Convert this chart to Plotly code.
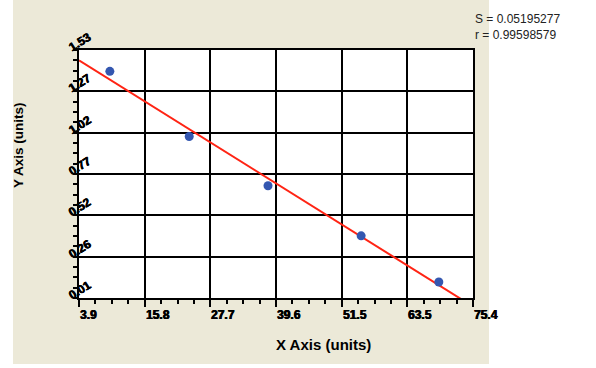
import plotly.graph_objects as go

# ---- data ----
x_points = [9.5, 23.9, 38.2, 55.1, 69.2]
y_points = [1.399, 1.00, 0.698, 0.391, 0.108]

fit_x = [3.9, 73.4]
fit_y = [1.467, 0.0]

x_tick_labels = ["3.9", "15.8", "27.7", "39.6", "51.5", "63.5", "75.4"]
y_tick_labels = ["0.01", "0.26", "0.52", "0.77", "1.02", "1.27", "1.53"]

x_min, x_max = 3.9, 75.4
y_min, y_max = 0.01, 1.53

stats_text = ["S = 0.05195277", "r = 0.99598579"]

# ---- figure ----
FONT = "Liberation Sans, Arial, sans-serif"
BEIGE = "#ece9d8"
THICK = "0.5px 0px 0px black, -0.3px 0px 0px black"

fig = go.Figure()

fig.add_trace(go.Scatter(
    x=fit_x, y=fit_y, mode="lines",
    line=dict(color="#ff2414", width=2),
    hoverinfo="skip", showlegend=False,
))
fig.add_trace(go.Scatter(
    x=x_points, y=y_points, mode="markers",
    marker=dict(color="#3457b0", size=9, line=dict(width=0)),
    showlegend=False,
))

x_step = (x_max - x_min) / 6
y_step = (y_max - y_min) / 6
x_tickvals = [x_min + i * x_step for i in range(len(x_tick_labels))]
y_tickvals = [y_min + i * y_step for i in range(len(y_tick_labels))]

fig.update_xaxes(
    range=[x_min, x_max], tickvals=x_tickvals, showticklabels=False,
    showgrid=True, gridcolor="black", gridwidth=1.5,
    showline=True, linecolor="black", linewidth=2, mirror=True,
    ticks="outside", ticklen=7, tickwidth=1.5, tickcolor="black",
    minor=dict(dtick=x_step / 4, tick0=x_min, ticks="outside", ticklen=4,
               tickwidth=1.5, tickcolor="black", showgrid=False),
    zeroline=False, fixedrange=True,
)
fig.update_yaxes(
    range=[y_min, y_max], tickvals=y_tickvals, showticklabels=False,
    showgrid=True, gridcolor="black", gridwidth=1.5,
    showline=True, linecolor="black", linewidth=2, mirror=True,
    ticks="outside", ticklen=4, tickwidth=1.5, tickcolor="black",
    minor=dict(dtick=y_step / 4, tick0=y_min, ticks="outside", ticklen=4,
               tickwidth=1.5, tickcolor="black", showgrid=False),
    zeroline=False, fixedrange=True,
)

annotations = []
for v, lab in zip(x_tickvals, x_tick_labels):
    annotations.append(dict(
        x=v, y=0, xref="x", yref="paper", text="<b>" + lab + "</b>", showarrow=False,
        xanchor="left", yanchor="top", xshift=-1, yshift=-8,
        font=dict(family=FONT, size=12, color="black", shadow=THICK),
    ))
for v, lab in zip(y_tickvals, y_tick_labels):
    annotations.append(dict(
        x=0, y=v, xref="paper", yref="y", text="<b>" + lab + "</b>", showarrow=False,
        xanchor="center", yanchor="middle", xshift=1, yshift=8, textangle=-32,
        font=dict(family=FONT, size=12, color="black", shadow=THICK),
    ))

annotations.append(dict(
    x=0.6218, y=-0.1895, xref="paper", yref="paper", text="<b>X Axis (units)</b>",
    showarrow=False, xanchor="center", yanchor="middle",
    font=dict(family=FONT, size=15, color="black"),
))
annotations.append(dict(
    x=-0.1523, y=0.617, xref="paper", yref="paper", text="<b>Y Axis (units)</b>",
    showarrow=False, xanchor="center", yanchor="middle", textangle=-90,
    font=dict(family=FONT, size=13.5, color="black"),
))
annotations.append(dict(
    x=(473 - 79) / 394, y=(298 - 10) / 248, xref="paper", yref="paper",
    text="<br>".join(stats_text), showarrow=False, align="left",
    xanchor="left", yanchor="top",
    font=dict(family=FONT, size=12, color="#222222"),
))

shapes = [
    # white strips around the beige panel
    dict(type="rect", xref="paper", yref="paper", x0=(489 - 79) / 394, x1=1.4,
         y0=-0.4, y1=1.4, fillcolor="white", line=dict(width=0), layer="below"),
    dict(type="rect", xref="paper", yref="paper", x0=-0.4, x1=(13 - 79) / 394,
         y0=-0.4, y1=1.4, fillcolor="white", line=dict(width=0), layer="below"),
    dict(type="rect", xref="paper", yref="paper", x0=-0.4, x1=1.4,
         y0=-0.4, y1=(298 - 364) / 248, fillcolor="white", line=dict(width=0), layer="below"),
]

fig.update_layout(
    width=596, height=368,
    margin=dict(l=79, r=123, t=50, b=70),
    paper_bgcolor=BEIGE, plot_bgcolor="white",
    annotations=annotations, shapes=shapes,
    showlegend=False,
)

fig.write_html("out.html", config=dict(displayModeBar=False))
